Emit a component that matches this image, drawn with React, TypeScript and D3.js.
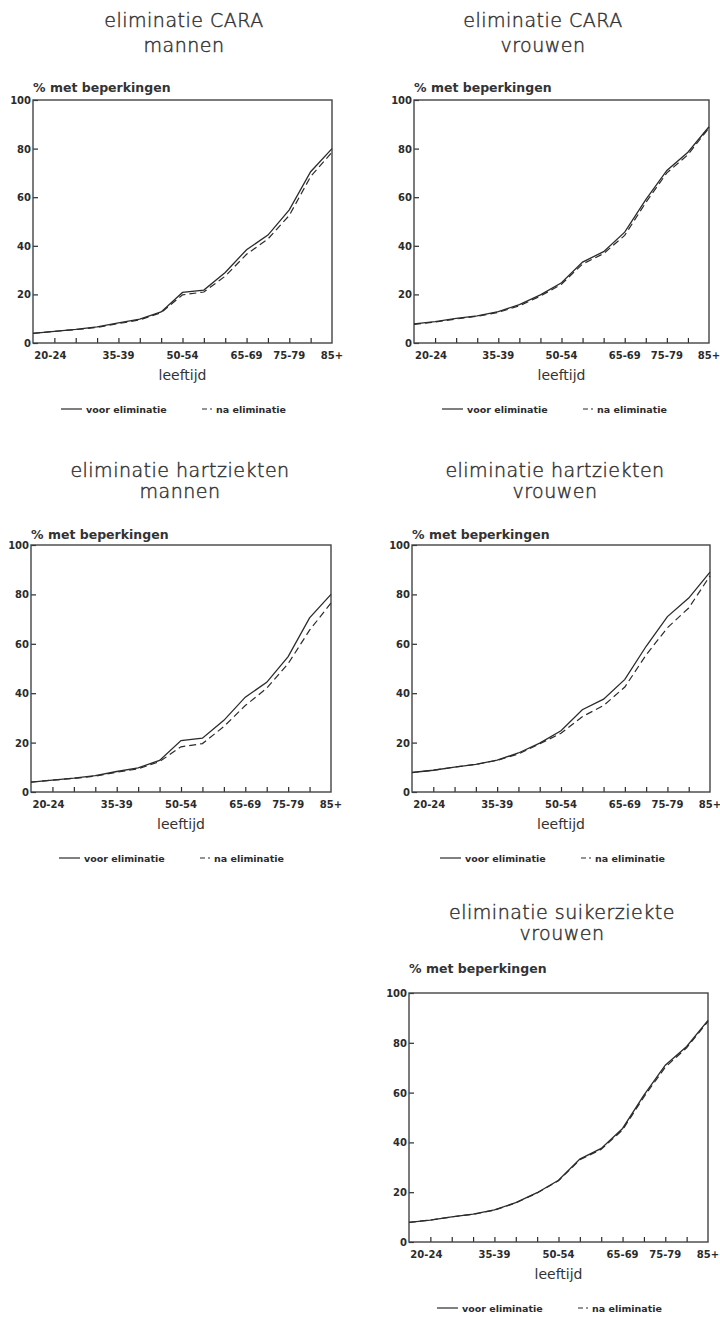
import { useEffect, useRef } from 'react';
import * as d3 from 'd3';

// leeftijdsgroepen (x-as)
const ageGroups = [
  '15-19', '20-24', '25-29', '30-34', '35-39', '40-44', '45-49',
  '50-54', '55-59', '60-64', '65-69', '70-74', '75-79', '80-84', '85+',
];
const tickLabels = ['20-24', '35-39', '50-54', '65-69', '75-79', '85+'];
const yTicks = [0, 20, 40, 60, 80, 100];

// % met beperkingen, voor eliminatie
const voorMannen = [4.0, 4.8, 5.6, 6.6, 8.3, 9.8, 12.8, 20.8, 21.8, 29.0, 38.4, 44.4, 54.8, 70.5, 80.0];
const voorVrouwen = [7.9, 8.8, 10.1, 11.2, 12.9, 15.8, 19.8, 24.8, 33.3, 37.6, 45.6, 59.0, 71.0, 78.5, 89.0];

// % met beperkingen, na eliminatie
const naCaraMannen = [4.0, 4.8, 5.5, 6.4, 8.0, 9.5, 12.5, 19.8, 21.0, 27.5, 36.5, 42.8, 52.5, 68.5, 78.5];
const naCaraVrouwen = [7.7, 8.6, 9.9, 11.0, 12.6, 15.3, 19.3, 24.2, 32.5, 36.8, 44.3, 57.8, 70.0, 77.5, 88.5];
const naHartMannen = [4.0, 4.8, 5.5, 6.4, 8.0, 9.4, 12.3, 18.3, 19.6, 26.5, 35.0, 42.0, 52.0, 65.5, 76.5];
const naHartVrouwen = [7.9, 8.8, 10.1, 11.2, 12.8, 15.4, 19.5, 23.8, 30.5, 35.0, 42.5, 55.5, 66.5, 74.5, 87.5];
const naSuikerVrouwen = [7.9, 8.8, 10.1, 11.1, 12.8, 15.7, 19.7, 24.6, 33.0, 37.2, 45.0, 58.3, 70.2, 78.0, 88.6];

const panels = [
  { t1: 'eliminatie CARA', t2: 'mannen', voor: voorMannen, na: naCaraMannen,
    x0: 33, x1: 332, y0: 100, y1: 343, tx: 184, ty1: 27, ty2: 52, hy: 92 },
  { t1: 'eliminatie CARA', t2: 'vrouwen', voor: voorVrouwen, na: naCaraVrouwen,
    x0: 414, x1: 709, y0: 100, y1: 343, tx: 543, ty1: 27, ty2: 52, hy: 92 },
  { t1: 'eliminatie hartziekten', t2: 'mannen', voor: voorMannen, na: naHartMannen,
    x0: 31, x1: 331, y0: 545, y1: 792, tx: 180, ty1: 477, ty2: 498, hy: 539 },
  { t1: 'eliminatie hartziekten', t2: 'vrouwen', voor: voorVrouwen, na: naHartVrouwen,
    x0: 412, x1: 710, y0: 545, y1: 792, tx: 555, ty1: 477, ty2: 498, hy: 539 },
  { t1: 'eliminatie suikerziekte', t2: 'vrouwen', voor: voorVrouwen, na: naSuikerVrouwen,
    x0: 409, x1: 708, y0: 993, y1: 1242, tx: 562, ty1: 919, ty2: 940, hy: 973 },
];

const INK = '#2b2b2b';
const FONT = '"DejaVu Sans", Verdana, sans-serif';

const App = () => {
  const ref = useRef<SVGSVGElement | null>(null);

  useEffect(() => {
    const svg = d3.select(ref.current);
    svg.selectAll('*').remove();

    panels.forEach((p) => {
      const g = svg.append('g');

      const x = d3.scalePoint<string>().domain(ageGroups).range([p.x0, p.x1]).padding(0);
      const y = d3.scaleLinear().domain([0, 100]).range([p.y1, p.y0]);

      // titels
      [p.t1, p.t2].forEach((t, i) => {
        g.append('text')
          .attr('x', p.tx).attr('y', i === 0 ? p.ty1 : p.ty2)
          .attr('text-anchor', 'middle')
          .style('font', `200 19px ${FONT}`)
          .style('letter-spacing', '0.5px')
          .attr('fill', '#333')
          .attr('stroke', '#333')
          .attr('stroke-width', 0.45)
          .text(t);
      });

      g.append('text')
        .attr('x', p.x0).attr('y', p.hy)
        .style('font', `bold 12.5px ${FONT}`)
        .attr('fill', '#333')
        .text('% met beperkingen');

      // Y axis (ticks naar binnen)
      const yAxis = g.append('g')
        .attr('transform', `translate(${p.x0},0)`)
        .call(d3.axisRight(y).tickValues(yTicks).tickSize(5).tickFormat(() => ''));
      yAxis.select('.domain').remove();
      yAxis.selectAll('line').attr('stroke', INK).attr('stroke-width', 1.2);
      g.selectAll('.ylab')
        .data(yTicks)
        .enter()
        .append('text')
        .attr('x', p.x0 - 2)
        .attr('y', (d) => y(d) + 4)
        .attr('text-anchor', 'end')
        .style('font', `bold 10px ${FONT}`)
        .attr('fill', INK)
        .text((d) => d);

      // X axis
      const xAxis = g.append('g')
        .attr('transform', `translate(0,${p.y1})`)
        .call(d3.axisTop(x).tickValues(ageGroups.slice(1, -1)).tickSize(5).tickFormat(() => ''));
      xAxis.select('.domain').remove();
      xAxis.selectAll('line').attr('stroke', INK).attr('stroke-width', 1.2);
      g.selectAll('.xlab')
        .data(tickLabels)
        .enter()
        .append('text')
        .attr('x', (d) => (x(d) as number) - (d === '20-24' ? 4 : 0))
        .attr('y', p.y1 + 16)
        .attr('text-anchor', 'middle')
        .style('font', `bold 10px ${FONT}`)
        .attr('fill', INK)
        .text((d) => d);

      g.append('text')
        .attr('x', (p.x0 + p.x1) / 2).attr('y', p.y1 + 37)
        .attr('text-anchor', 'middle')
        .style('font', `14px ${FONT}`)
        .attr('fill', '#333')
        .text('leeftijd');

      // kader
      g.append('rect')
        .attr('x', p.x0).attr('y', p.y0)
        .attr('width', p.x1 - p.x0).attr('height', p.y1 - p.y0)
        .attr('fill', 'none')
        .attr('stroke', '#444')
        .attr('stroke-width', 1.4);

      const line = d3.line<number>()
        .x((_, i) => x(ageGroups[i]) as number)
        .y((d) => y(d));

      g.append('path')
        .datum(p.na)
        .attr('d', line)
        .attr('fill', 'none')
        .attr('stroke', INK)
        .attr('stroke-width', 1.2)
        .attr('stroke-dasharray', '7,4');
      g.append('path')
        .datum(p.voor)
        .attr('d', line)
        .attr('fill', 'none')
        .attr('stroke', INK)
        .attr('stroke-width', 1.3);

      // legenda
      const ly = p.y1 + 66;
      const lx = p.x0 + 28;
      g.append('line')
        .attr('x1', lx).attr('x2', lx + 21).attr('y1', ly).attr('y2', ly)
        .attr('stroke', INK).attr('stroke-width', 1.2);
      g.append('text')
        .attr('x', lx + 25).attr('y', ly + 3.5)
        .style('font', `bold 9.5px ${FONT}`)
        .attr('fill', INK)
        .text('voor eliminatie');
      g.append('line')
        .attr('x1', lx + 141).attr('x2', lx + 151).attr('y1', ly).attr('y2', ly)
        .attr('stroke', INK).attr('stroke-width', 1.2)
        .attr('stroke-dasharray', '5,3,2');
      g.append('text')
        .attr('x', lx + 155).attr('y', ly + 3.5)
        .style('font', `bold 9.5px ${FONT}`)
        .attr('fill', INK)
        .text('na eliminatie');
    });
  }, []);

  return (
    <svg
      ref={ref}
      width={720}
      height={1317}
      style={{ position: 'absolute', left: 0, top: 0, background: '#fff' }}
    />
  );
};

export default App;
